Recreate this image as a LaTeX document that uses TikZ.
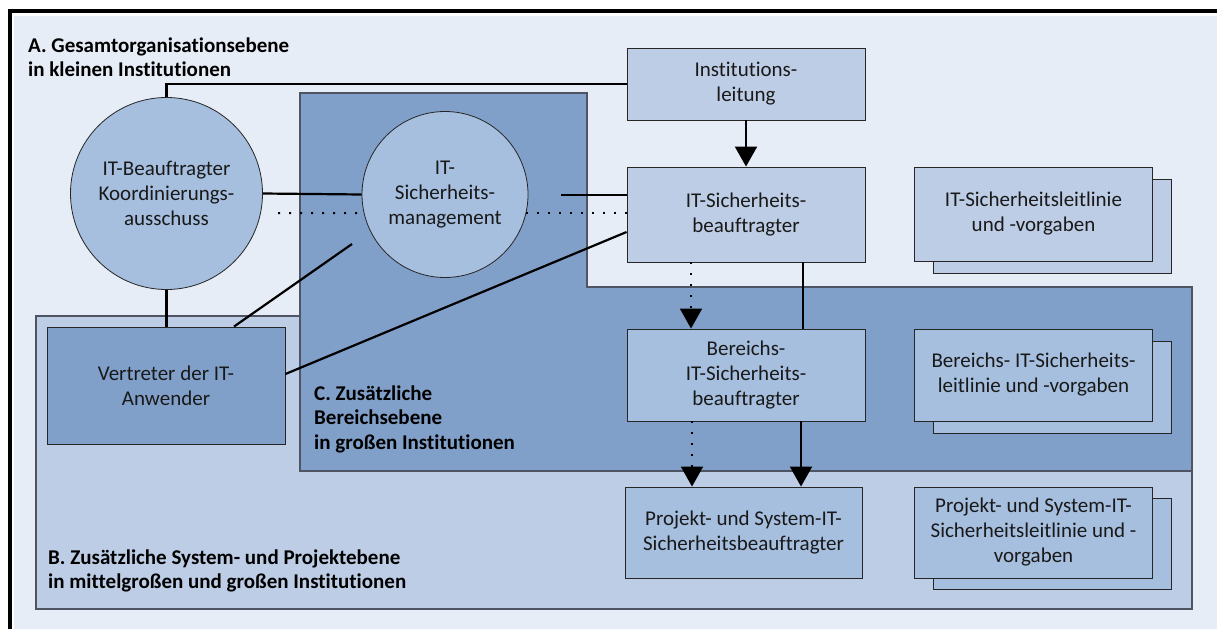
\documentclass[tikz,border=0pt]{standalone}
\usepackage{fontspec}
\setmainfont{Carlito}[Ligatures=NoCommon]
\usetikzlibrary{arrows.meta,calc}

\definecolor{pagebg}{RGB}{231,237,247}
\definecolor{levelB}{RGB}{189,205,229}
\definecolor{levelC}{RGB}{129,160,201}
\definecolor{nodefill}{RGB}{166,191,223}
\definecolor{toplight}{RGB}{189,205,229}
\definecolor{edgegray}{RGB}{78,84,98}

\tikzset{
  txt/.style={font=\fontsize{21}{25}\selectfont, align=center, text=black!90},
  circ/.style={txt, circle, draw=black!85, line width=0.8pt, fill=nodefill, inner sep=0pt},
  boxbase/.style={txt, rectangle, draw=black!85, line width=0.9pt, inner sep=0pt},
  boxtop/.style={boxbase, fill=toplight},
  boxnode/.style={boxbase, fill=nodefill},
  boxdark/.style={boxbase, fill=levelC},
  sheet/.style={rectangle, draw=black!85, line width=0.9pt, inner sep=0pt,
                minimum width=238pt},
  heading/.style={font=\bfseries\fontsize{21}{24.5}\selectfont, align=left,
                  inner sep=0pt, text=black},
  region/.style={draw=edgegray, line width=1.6pt},
  conn/.style={line width=2.2pt, black},
  dotline/.style={line width=2pt, black, dash pattern=on 2pt off 9pt},
  tip/.style={-{Triangle[width=22pt,length=20pt]}},
}

\begin{document}
\begin{tikzpicture}[x=1pt,y=-1pt]
\useasboundingbox (0,0) rectangle (1217,629);

% page background and frame
\fill[pagebg] (14,16) rectangle (1217,629);
\draw[line width=4pt, line join=miter] (10,629) -- (10,10.5) -- (1217,10.5);

% level B: system and project level
\draw[region, fill=levelB] (36,316) rectangle (1192,609);
% level C: additional area level
\draw[region, fill=levelC] (300,93) -- (587,93) -- (587,287) -- (1192,287)
  -- (1192,471) -- (300,471) -- cycle;

% level headings
\node[heading, anchor=west] (ha) at (28,57)
  {A. Gesamtorganisationsebene\\in kleinen Institutionen};
\node[heading, anchor=west] (hc) at (314,419)
  {C. Zusätzliche\\Bereichsebene\\in großen Institutionen};
\node[heading, anchor=west] (hb) at (48,571)
  {B. Zusätzliche System- und Projektebene\\in mittelgroßen und großen Institutionen};

% roles
\node[circ, minimum size=192pt] (c1) at (166.5,193.5)
  {IT-Beauftragter\\Koordinierungs-\\ausschuss};
\node[circ, minimum size=166pt] (c2) at (445,194.5)
  {IT-\\Sicherheits-\\management};
\node[boxtop, minimum width=238pt, minimum height=72pt] (il) at (746,84)
  {Institutions-\\leitung};
\node[boxtop, minimum width=238pt, minimum height=95pt] (its) at (746,214.5)
  {IT-Sicherheits-\\beauftragter};
\node[boxnode, minimum width=238pt, minimum height=92pt] (ber) at (746,375)
  {Bereichs-\\IT-Sicherheits-\\beauftragter};
\node[boxnode, minimum width=237pt, minimum height=91pt] (prj) at (743.5,532.5)
  {Projekt- und System-IT-\\Sicherheitsbeauftragter};
\node[boxdark, minimum width=238pt, minimum height=117pt] (ver) at (166,385.5)
  {Vertreter der IT-\\Anwender};

% policy documents (stacked sheets)
\node[sheet, fill=toplight, minimum height=94pt] (p1b) at (1052.5,226) {};
\node[boxtop, minimum width=238pt, minimum height=94pt] (p1) at (1033.5,214)
  {IT-Sicherheitsleitlinie\\und -vorgaben};
\node[sheet, fill=nodefill, minimum height=92pt] (p2b) at (1052.5,387) {};
\node[boxnode, minimum width=238pt, minimum height=92pt] (p2) at (1033.5,375)
  {Bereichs- IT-Sicherheits-\\leitlinie und -vorgaben};
\node[sheet, fill=nodefill, minimum height=91pt] (p3b) at (1052.5,544) {};
\node[boxnode, minimum width=238pt, minimum height=91pt] (p3) at (1033.5,532.5)
  {Projekt- und System-IT-\\Sicherheitsleitlinie und -\\vorgaben};

% connectors
\draw[conn] (c1.north) -- (c1.north |- il.west) -- (il.west);
\draw[conn] (c1.east) -- (c2.west);
\coordinate (d1) at (278,213);
\draw[dotline] (d1) -- (c2.193);
\draw[dotline] (c2.-13) -- (c2.-13 -| its.west);
\coordinate (s1) at (561,195);
\draw[conn] (s1) -- (s1 -| its.west);
\coordinate (s2) at (352,244);
\draw[conn] (s2) -- (234,0 |- ver.north);
\draw[conn] (c1.south) -- (c1.south |- ver.north);
\draw[conn] (its.west |- 0,232) -- (ver.east |- 0,374);

\draw[conn, tip] (il.south) -- (its.north);
\draw[dotline, tip] (its.south -| 691,0) -- (ber.north -| 691,0);
\draw[conn] (its.south -| 803,0) -- (ber.north -| 803,0);
\draw[dotline, tip] (ber.south -| 692,0) -- (prj.north -| 692,0);
\draw[conn, tip] (ber.south -| 801,0) -- (prj.north -| 801,0);
\end{tikzpicture}
\end{document}
